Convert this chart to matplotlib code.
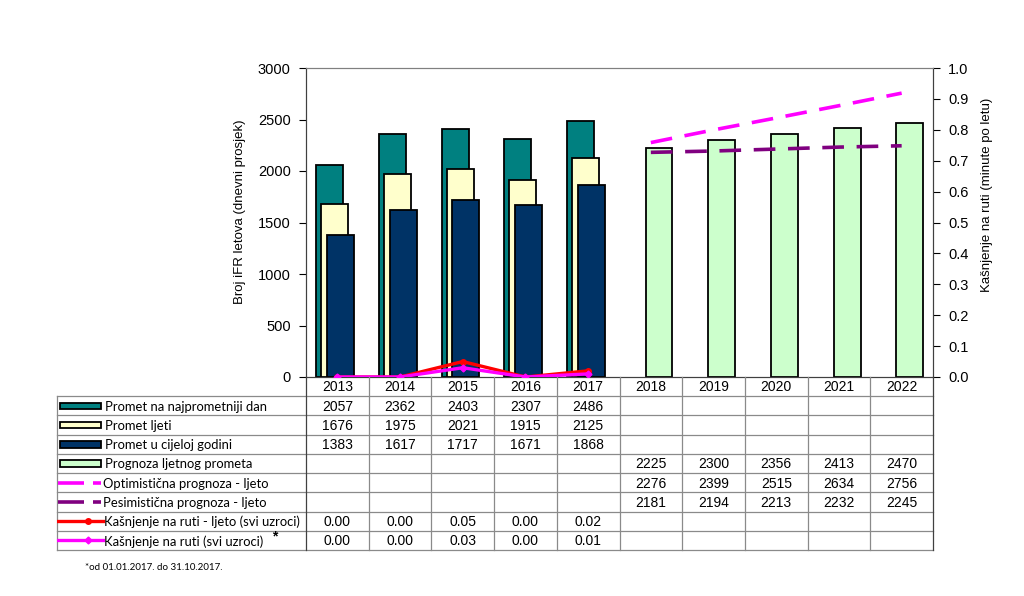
import matplotlib
matplotlib.use("Agg")
import matplotlib.pyplot as plt
from matplotlib.patches import Rectangle
import numpy as np

# podaci
godine = ['2013', '2014', '2015', '2016', '2017', '2018', '2019', '2020', '2021', '2022']
najprometniji_dan = [2057, 2362, 2403, 2307, 2486]
promet_ljeti = [1676, 1975, 2021, 1915, 2125]
cijela_godina = [1383, 1617, 1717, 1671, 1868]
prognoza_ljeto = [2225, 2300, 2356, 2413, 2470]
optimisticna = [2276, 2399, 2515, 2634, 2756]
pesimisticna = [2181, 2194, 2213, 2232, 2245]
kasnjenje_ljeto = [0.00, 0.00, 0.05, 0.00, 0.02]
kasnjenje_sve = [0.00, 0.00, 0.03, 0.00, 0.01]

W, H = 1024, 596
fig = plt.figure(figsize=(W / 100, H / 100), dpi=100)

# polozaj grafa u pikselima
L, R, T, B = 306, 933, 68, 377
ax = fig.add_axes([L / W, 1 - B / H, (R - L) / W, (B - T) / H])
ax2 = ax.twinx()

x_hist = np.arange(5)
x_prog = np.arange(5, 10)
bw = 0.43
ek = dict(edgecolor='black', linewidth=1.3)

ax.bar(x_hist - 0.12, najprometniji_dan, bw, color='#008080', zorder=2, **ek)
ax.bar(x_hist - 0.04, promet_ljeti, bw, color='#ffffcc', zorder=3, **ek)
ax.bar(x_hist + 0.05, cijela_godina, bw, color='#003366', zorder=4, **ek)
ax.bar(x_prog + 0.13, prognoza_ljeto, bw, color='#ccffcc', zorder=2, **ek)

ax.plot(x_prog, optimisticna, color='#ff00ff', lw=2.6, dashes=(6, 3.5), zorder=5)
ax.plot(x_prog, pesimisticna, color='#800080', lw=2.6, dashes=(6, 3.5), zorder=5)

ax2.plot(x_hist, kasnjenje_ljeto, color='#ff0000', lw=2.4, marker='o', ms=4, zorder=6)
ax2.plot(x_hist, kasnjenje_sve, color='#ff00ff', lw=2.4, marker='D', ms=3.5, zorder=7)

ax.set_xlim(-0.5, 9.5)
ax.set_ylim(0, 3000)
ax.set_yticks(range(0, 3001, 500))
ax.set_xticks([])
ax2.set_ylim(0, 1)
ax2.set_yticks(np.arange(0, 1.01, 0.1))
ax2.set_yticklabels([f'{v:.1f}' for v in np.arange(0, 1.01, 0.1)])

for lab in ax.get_yticklabels() + ax2.get_yticklabels():
    lab.set_fontfamily('Liberation Sans')
    lab.set_fontsize(10.5)
ax.tick_params(axis='y', direction='out', length=5, pad=6)
ax2.tick_params(axis='y', direction='out', length=5, pad=6)

for a in (ax, ax2):
    a.spines['top'].set_color('#808080')
    a.spines['left'].set_color('#404040')
    a.spines['right'].set_color('#404040')
    a.spines['bottom'].set_color('#404040')

ax.set_ylabel('Broj iFR letova (dnevni prosjek)', family='Liberation Sans', fontsize=9.5)
ax2.set_ylabel('Kašnjenje na ruti (minute po letu)', family='Liberation Sans', fontsize=9.5)
ax.yaxis.set_label_coords(-0.0957, 0.534)
ax2.yaxis.set_label_coords(1.0766, 0.589)

# tablica ispod grafa
tab_left = 57
ux = (R - L) / 10.0
x0 = -0.5 - (L - tab_left) / ux
tab = fig.add_axes([tab_left / W, 1 - 550 / H, (R - tab_left) / W, (550 - B) / H])
tab.set_xlim(x0, 9.5)
tab.set_ylim(9, 0)
tab.axis('off')

gc = '#8a8a8a'
for r in range(1, 10):
    tab.plot([x0, 9.5], [r, r], color=gc, lw=0.9, clip_on=False)
tab.plot([x0, x0], [1, 9], color=gc, lw=0.9, clip_on=False)
for k in range(11):
    tab.plot([k - 0.5, k - 0.5], [0, 9], color=gc if 0 < k < 10 else '#404040',
             lw=0.9, clip_on=False)

num_font = dict(family='Liberation Sans', fontsize=10, ha='center', va='center')
for i, g in enumerate(godine):
    tab.text(i, 0.5, g, **num_font)

for r, vals in enumerate([najprometniji_dan, promet_ljeti, cijela_godina]):
    for i, v in enumerate(vals):
        tab.text(i, r + 1.55, str(v), **num_font)
for r, vals in enumerate([prognoza_ljeto, optimisticna, pesimisticna]):
    for i, v in enumerate(vals):
        tab.text(i + 5, r + 4.55, str(v), **num_font)
for r, vals in enumerate([kasnjenje_ljeto, kasnjenje_sve]):
    for i, v in enumerate(vals):
        tab.text(i, r + 7.55, f'{v:.2f}', **num_font)


def px(p):
    return x0 + (p - tab_left) / ux


leg_font = dict(family='Lato', fontsize=9.4, va='center', ha='left')
bar_rows = [('Promet na najprometniji dan', '#008080'),
            ('Promet ljeti', '#ffffcc'),
            ('Promet u cijeloj godini', '#003366'),
            ('Prognoza ljetnog prometa', '#ccffcc')]
for r, (txt, c) in enumerate(bar_rows):
    yc = r + 1.5
    tab.add_patch(Rectangle((px(60), yc - 0.17), px(101) - px(60), 0.34,
                            facecolor=c, edgecolor='black', lw=1.3))
    tab.text(px(105), yc + 0.05, txt, **leg_font)

line_rows = [('Optimistična prognoza - ljeto', '#ff00ff'),
             ('Pesimistična prognoza - ljeto', '#800080')]
for r, (txt, c) in enumerate(line_rows):
    yc = r + 5.5
    tab.plot([px(58), px(84)], [yc, yc], color=c, lw=2.6, solid_capstyle='butt')
    tab.plot([px(93), px(101)], [yc, yc], color=c, lw=2.6, solid_capstyle='butt')
    tab.text(px(103), yc + 0.05, txt, **leg_font)

tab.plot([px(57), px(103)], [7.5, 7.5], color='#ff0000', lw=2.4)
tab.plot([px(88)], [7.5], color='#ff0000', marker='o', ms=4)
tab.text(px(104), 7.55, 'Kašnjenje na ruti - ljeto (svi uzroci)', **leg_font)
tab.plot([px(57), px(103)], [8.5, 8.5], color='#ff00ff', lw=2.4)
tab.plot([px(88)], [8.5], color='#ff00ff', marker='D', ms=3.5)
tab.text(px(104), 8.55, 'Kašnjenje na ruti (svi uzroci)', **leg_font)
tab.text(px(275), 8.3, '*', family='Liberation Sans', fontsize=10, fontweight='bold',
         ha='center', va='center')

fig.text(85 / W, 1 - 567 / H, '*od 01.01.2017. do 31.10.2017.', family='Lato',
         fontsize=7, va='center', ha='left')

fig.savefig('out.png', dpi=100)
